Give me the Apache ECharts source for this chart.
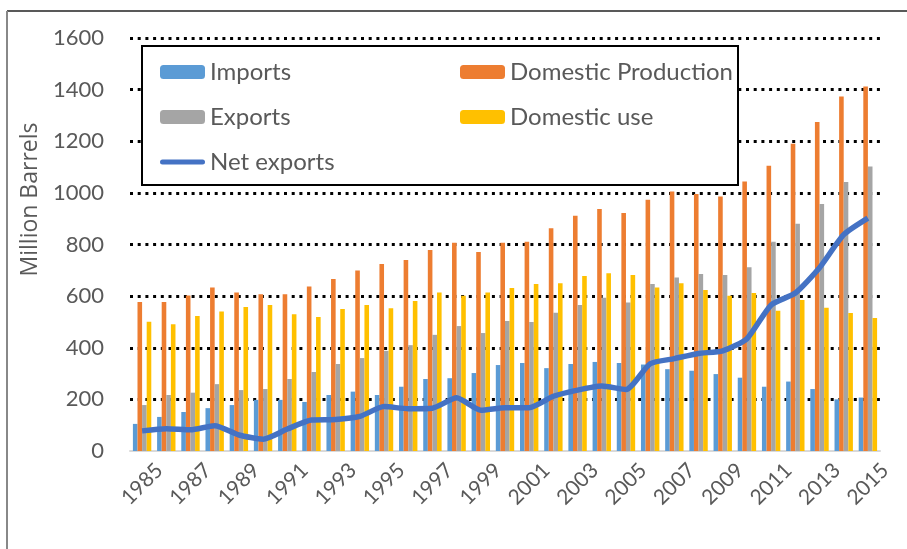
<!DOCTYPE html>
<html>
<head>
<meta charset="utf-8">
<script src="https://cdn.jsdelivr.net/npm/echarts@6/dist/echarts.min.js"></script>
<style>
  html, body { margin: 0; padding: 0; background: #fff; }
  #main { width: 907px; height: 549px; }
</style>
</head>
<body>
<div id="main"></div>
<script>
const years = [];
for (let y = 1985; y <= 2015; y++) years.push(String(y));

const imports = [105, 132, 151, 166, 178, 198, 198, 190, 217, 230, 217, 249, 279, 282, 302, 333,
  341, 321, 337, 345, 341, 335, 317, 311, 298, 284, 249, 269, 240, 200, 207];
const production = [577, 577, 602, 633, 614, 607, 607, 637, 666, 699, 724, 740, 779, 807, 771, 807,
  811, 863, 911, 938, 922, 973, 1005, 996, 986, 1044, 1105, 1190, 1275, 1373, 1412];
const exportsData = [178, 217, 226, 259, 236, 240, 279, 306, 337, 360, 388, 410, 450, 484, 457, 504,
  500, 536, 566, 594, 575, 647, 672, 686, 682, 712, 811, 880, 957, 1042, 1102];
const domesticUse = [501, 491, 523, 540, 558, 566, 530, 519, 550, 566, 553, 581, 614, 601, 614, 631,
  647, 650, 678, 689, 682, 633, 650, 624, 601, 612, 543, 585, 555, 535, 515];
const netExports = [78, 86, 82, 98, 62, 46, 85, 120, 122, 134, 172, 164, 166, 206, 158, 168,
  168, 212, 236, 252, 238, 338, 358, 378, 388, 435, 566, 612, 710, 838, 902];

const labelColor = '#595959';
const tickFont = 'Lato, "Liberation Sans", sans-serif';
const legendText = { color: labelColor, fontSize: 24, lineHeight: 26, fontFamily: tickFont };

const chart = echarts.init(document.getElementById('main'));

const option = {
  animation: false,
  backgroundColor: '#fff',
  grid: { left: 130, right: 27, top: 38, bottom: 98 },
  xAxis: {
    type: 'category',
    data: years,
    axisLine: { lineStyle: { color: '#d9d9d9', width: 2 } },
    axisTick: { show: false },
    axisLabel: {
      interval: 1,
      rotate: 45,
      align: 'center',
      margin: 33,
      color: labelColor,
      fontSize: 21,
      fontFamily: tickFont
    }
  },
  yAxis: {
    type: 'value',
    min: 0,
    max: 1600,
    interval: 200,
    name: 'Million Barrels',
    nameLocation: 'middle',
    nameGap: 78,
    nameTextStyle: {
      color: labelColor,
      fontSize: 23,
      fontFamily: '"Open Sans", sans-serif',
      padding: [0, 0, 0, 90]
    },
    axisLine: { show: false },
    axisTick: { show: false },
    axisLabel: {
      color: labelColor,
      fontSize: 22,
      margin: 26,
      fontFamily: tickFont,
      formatter: v => String(v)
    },
    splitLine: {
      showMinLine: false,
      lineStyle: { color: '#000', width: 3, type: [3, 4.7] }
    }
  },
  legend: [
    {
      data: ['Imports', 'Exports',
        { name: 'Net exports', icon: 'path://M2.5,0 L42.5,0 A2.5,2.5 0 0 1 42.5,5 L2.5,5 A2.5,2.5 0 0 1 2.5,0 Z' }],
      orient: 'vertical',
      left: 155,
      top: 54,
      itemWidth: 45,
      itemHeight: 14,
      itemGap: 19,
      textStyle: legendText
    },
    {
      data: ['Domestic Production', 'Domestic use'],
      orient: 'vertical',
      left: 455,
      top: 54,
      itemWidth: 45,
      itemHeight: 14,
      itemGap: 19,
      textStyle: legendText
    }
  ],
  graphic: [
    {
      type: 'rect',
      z: 3,
      shape: { x: 142, y: 46, width: 596, height: 139 },
      style: { fill: '#fff', stroke: '#000', lineWidth: 2 }
    },
    {
      type: 'line',
      shape: { x1: 7, y1: 11, x2: 907, y2: 11 },
      style: { stroke: '#222', lineWidth: 1.5 }
    },
    {
      type: 'line',
      shape: { x1: 7, y1: 11, x2: 7, y2: 549 },
      style: { stroke: '#888', lineWidth: 2 }
    }
  ],
  series: [
    { name: 'Imports', type: 'bar', data: imports, barGap: 0, barCategoryGap: '24%',
      itemStyle: { color: '#5b9bd5' } },
    { name: 'Domestic Production', type: 'bar', data: production,
      itemStyle: { color: '#ed7d31' } },
    { name: 'Exports', type: 'bar', data: exportsData,
      itemStyle: { color: '#a5a5a5' } },
    { name: 'Domestic use', type: 'bar', data: domesticUse,
      itemStyle: { color: '#ffc000' } },
    { name: 'Net exports', type: 'line', data: netExports, smooth: 0.2,
      symbol: 'none', z: 5,
      lineStyle: { color: '#4472c4', width: 5.5 },
      itemStyle: { color: '#4472c4' } }
  ]
};

chart.setOption(option);
</script>
</body>
</html>
